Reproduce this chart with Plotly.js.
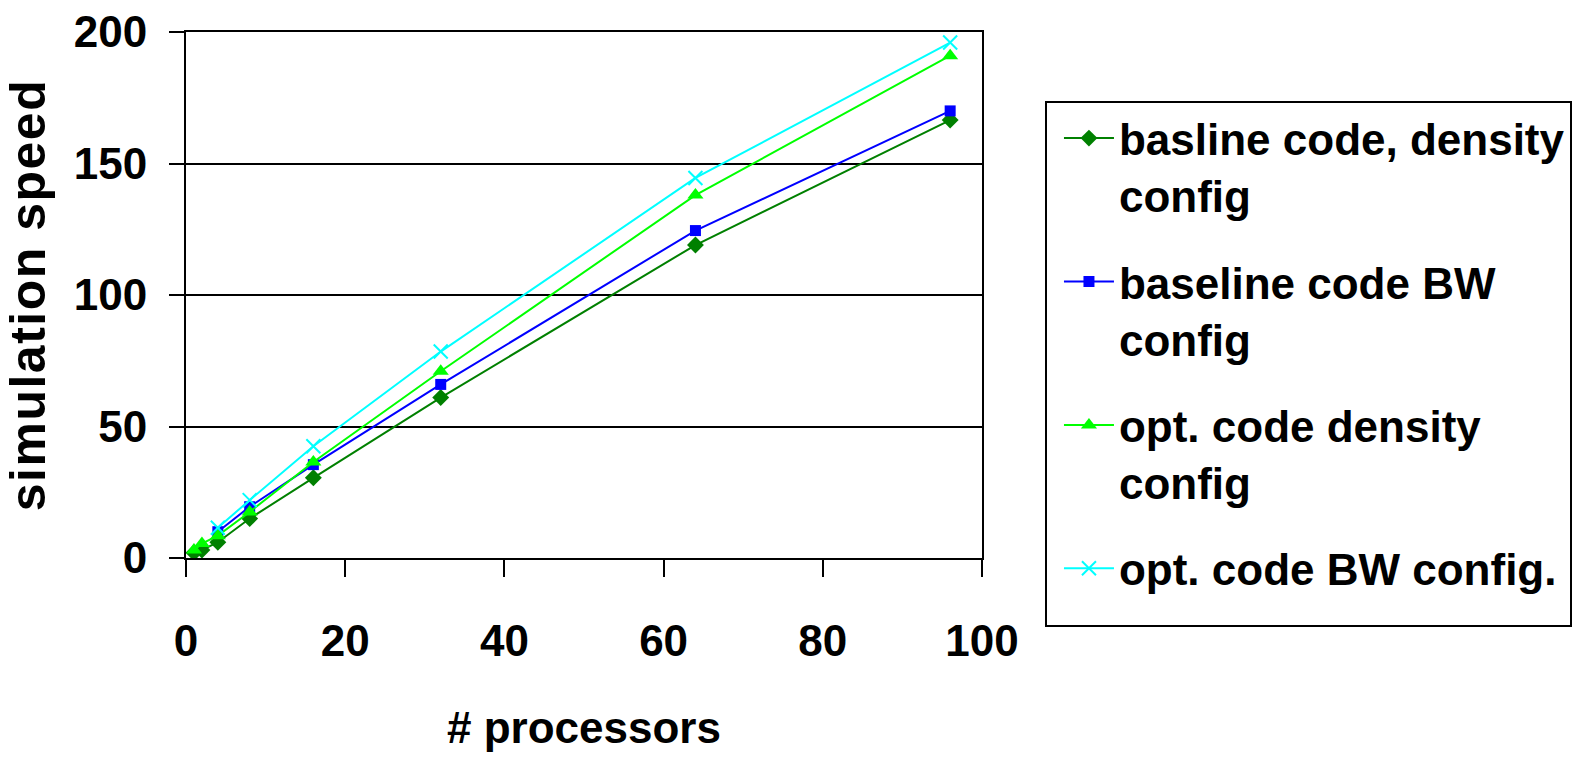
<!DOCTYPE html>
<html>
<head>
<meta charset="utf-8">
<script src="https://cdn.plot.ly/plotly-3.0.1.min.js"></script>
<style>
html,body{margin:0;padding:0;background:#fff;}
#chart{width:1577px;height:766px;}
.ytitle{letter-spacing:1.5px;}
</style>
</head>
<body>
<div id="chart"></div>
<script>
// Data
const procsAll = [1, 2, 4, 8, 16, 32, 64, 96];
const procsBW = [4, 8, 16, 32, 64, 96];
const baselineDensity = [2, 3, 6, 15, 30.5, 61, 119, 166.5];
const baselineBW = [10, 19.5, 35.5, 66, 124.5, 170];
const optDensity = [3, 5.5, 8.5, 17.5, 36.5, 71, 138, 191];
const optBW = [11.5, 22, 42.5, 78.5, 144.5, 196];
const seriesNames = [
  'basline code, density<br>config',
  'baseline code BW<br>config',
  'opt. code density<br>config',
  'opt. code BW config.<br> '
];
const xTicks = [0, 20, 40, 60, 80, 100];
const yTicks = [0, 50, 100, 150, 200];

const font = '"Liberation Sans", Arial, sans-serif';

const traces = [
  {x: procsAll, y: baselineDensity, name: seriesNames[0], legendgroup: 'a', mode: 'lines+markers',
   line: {color: '#008000', width: 2}, marker: {symbol: 'diamond', size: 13, color: '#008000'}},
  {x: procsBW, y: baselineBW, name: seriesNames[1], legendgroup: 'b', mode: 'lines+markers',
   line: {color: '#0000FF', width: 2}, marker: {symbol: 'square', size: 11, color: '#0000FF'}},
  {x: procsAll, y: optDensity, name: seriesNames[2], legendgroup: 'c', mode: 'lines+markers',
   line: {color: '#00FF00', width: 2}, marker: {symbol: 'triangle-up', size: 14, color: '#00FF00'}},
  {x: procsBW, y: optBW, name: seriesNames[3], legendgroup: 'd', mode: 'lines+markers',
   line: {color: '#00FFFF', width: 2}, marker: {symbol: 'x-thin', size: 14, color: '#00FFFF', line: {color: '#00FFFF', width: 2}}}
];

const layout = {
  width: 1577, height: 766,
  margin: {l: 185.5, r: 595, t: 32, b: 208, autoexpand: false},
  paper_bgcolor: '#fff', plot_bgcolor: '#fff',
  showlegend: true,
  legend: {
    x: 1.0791, y: 0.8688, xanchor: 'left', yanchor: 'top',
    bordercolor: '#000', borderwidth: 2, bgcolor: '#fff',
    font: {family: font, size: 44, color: '#000', weight: 'bold'},
    valign: 'top', itemwidth: 50, indentation: 12,
    tracegroupgap: 26, traceorder: 'grouped'
  },
  xaxis: {
    range: [0, 100], tickvals: xTicks, ticktext: xTicks.map(String),
    showgrid: false, zeroline: false,
    showline: true, linecolor: '#000', linewidth: 2, mirror: true,
    ticks: 'outside', ticklen: 17, tickwidth: 2, tickcolor: '#000',
    tickfont: {family: font, size: 44, color: '#000', weight: 'bold'},
    ticklabelstandoff: 26,
    title: {text: '# processors', font: {family: font, size: 44, color: '#000', weight: 'bold'}, standoff: 48},
    automargin: false
  },
  yaxis: {
    range: [0, 200], tickvals: yTicks, ticktext: yTicks.map(String),
    showgrid: true, gridcolor: '#000', gridwidth: 2, zeroline: false,
    showline: true, linecolor: '#000', linewidth: 2, mirror: true,
    ticks: 'outside', ticklen: 15, tickwidth: 2, tickcolor: '#000',
    tickfont: {family: font, size: 44, color: '#000', weight: 'bold'},
    ticklabelstandoff: 13,
    title: {text: 'simulation speed', font: {family: font, size: 50, color: '#000', weight: 'bold'}, standoff: 20},
    automargin: false
  }
};

Plotly.newPlot('chart', traces, layout, {displayModeBar: false, staticPlot: true});
</script>
</body>
</html>
